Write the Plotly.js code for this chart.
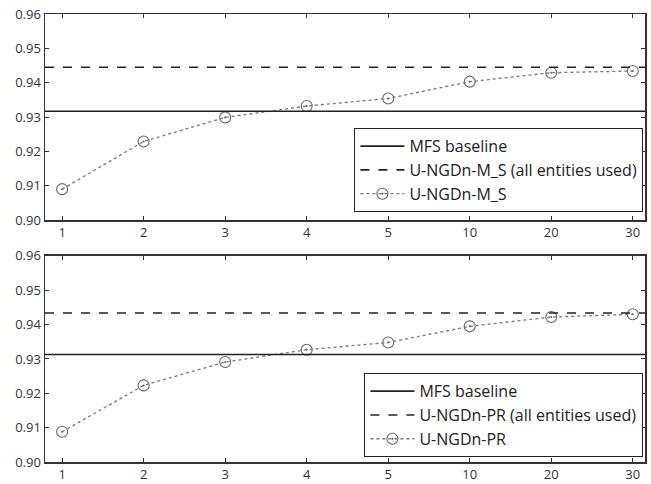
<!DOCTYPE html>
<html><head><meta charset="utf-8">
<script src="https://cdn.plot.ly/plotly-3.0.1.min.js"></script>
<style>body{margin:0;background:#fff}#c{width:651px;height:484px}</style>
</head><body><div id="c"></div>
<script>
const categories = ["1","2","3","4","5","10","20","30"];
const topValues = [0.9090, 0.9229, 0.9299, 0.9332, 0.9354, 0.9403, 0.9429, 0.9434];
const topBaseline = 0.9317;
const topAll = 0.9445;
const botValues = [0.9088, 0.9223, 0.9291, 0.9327, 0.9348, 0.9395, 0.9422, 0.9430];
const botBaseline = 0.9313;
const botAll = 0.9434;
const topNames = ["MFS baseline", "U-NGDn-M_S (all entities used)", "U-NGDn-M_S"];
const botNames = ["MFS baseline", "U-NGDn-PR (all entities used)", "U-NGDn-PR"];
const yTicks = [0.90, 0.91, 0.92, 0.93, 0.94, 0.95, 0.96];

const lineCol = '#222';
const ptCol = '#666';
function hline(val, xa, ya, dash, name, leg){
  return {x:[0,1], y:[val,val], xaxis:xa, yaxis:ya, mode:'lines', name:name, legend:leg,
    line:{color:lineCol, width:1.6, dash:dash}, hoverinfo:'skip'};
}
function pts(vals, xa, ya, name, leg){
  return {x:categories, y:vals, xaxis:xa, yaxis:ya, mode:'lines+markers', name:name, legend:leg,
    line:{color:'#777', width:1.3, dash:'dot'},
    marker:{symbol:'circle-open-dot', size:11, color:ptCol, line:{width:1.1, color:ptCol}}};
}
const data = [
  hline(topBaseline,'x3','y','solid',topNames[0],'legend'),
  hline(topAll,'x3','y','dash',topNames[1],'legend'),
  pts(topValues,'x','y',topNames[2],'legend'),
  hline(botBaseline,'x4','y2','solid',botNames[0],'legend2'),
  hline(botAll,'x4','y2','dash',botNames[1],'legend2'),
  pts(botValues,'x2','y2',botNames[2],'legend2')
];
const font = {family:'"Open Sans", sans-serif', size:13, color:'#333'};
const xbase = {type:'category', range:[-0.21,7.15], showgrid:false, zeroline:false,
  showline:true, linecolor:'#333', linewidth:1.5, mirror:'ticks', ticks:'inside', ticklen:4,
  tickcolor:'#333', tickfont:font, categoryorder:'array', categoryarray:categories};
const ybase = {range:[0.90,0.96], tickvals:yTicks, ticktext:yTicks.map(v=>v.toFixed(2)),
  showgrid:false, zeroline:false, showline:true, linecolor:'#333', linewidth:1.5, mirror:'ticks',
  ticks:'inside', ticklen:4, tickcolor:'#333', tickfont:font};
const legBase = {bgcolor:'#fff', bordercolor:'#222', borderwidth:1.2, xanchor:'right', yanchor:'bottom',
  font:{family:'"Open Sans", sans-serif', size:16, color:'#222'}, tracegroupgap:0, itemwidth:44};
const layout = {
  width:651, height:484, paper_bgcolor:'#fff', plot_bgcolor:'#fff',
  margin:{l:45, r:6, t:14, b:22},
  showlegend:true,
  xaxis:Object.assign({}, xbase, {anchor:'y'}),
  yaxis:Object.assign({}, ybase, {domain:[0.540,1], anchor:'x'}),
  xaxis2:Object.assign({}, xbase, {anchor:'y2'}),
  yaxis2:Object.assign({}, ybase, {domain:[0,0.460], anchor:'x2'}),
  xaxis3:{overlaying:'x', range:[0,1], visible:false, anchor:'y'},
  xaxis4:{overlaying:'x2', range:[0,1], visible:false, anchor:'y2'},
  legend:Object.assign({}, legBase, {x:0.997, y:0.558}),
  legend2:Object.assign({}, legBase, {x:0.997, y:0.011})
};
Plotly.newPlot('c', data, layout, {displayModeBar:false, staticPlot:true});
</script></body></html>
